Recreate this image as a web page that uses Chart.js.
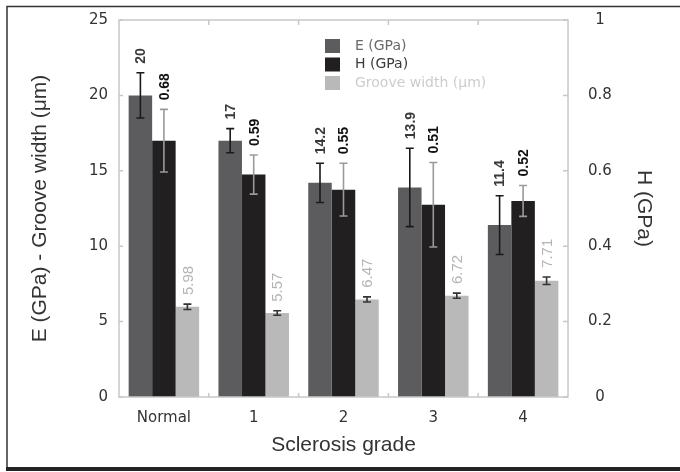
<!DOCTYPE html>
<html>
<head>
<meta charset="utf-8">
<script src="https://cdn.jsdelivr.net/npm/chart.js@4.4.0/dist/chart.umd.min.js"></script>
<style>
  html, body { margin: 0; padding: 0; background: #fff; }
</style>
</head>
<body>
<canvas id="chart" width="680" height="472"></canvas>
<script>
// data
const grades = ['Normal', '1', '2', '3', '4'];
const eValues = [20, 17, 14.2, 13.9, 11.4];
const eErrors = [1.5, 0.8, 1.3, 2.6, 1.95];
const hValues = [0.68, 0.59, 0.55, 0.51, 0.52];
const hErrors = [0.083, 0.052, 0.07, 0.112, 0.041];
const grooveValues = [5.98, 5.57, 6.47, 6.72, 7.71];
const grooveErrors = [0.18, 0.15, 0.17, 0.17, 0.25];
const leftTicks = [0, 5, 10, 15, 20, 25];
const rightTicks = [0, 0.2, 0.4, 0.6, 0.8, 1];

const errors = [eErrors, hErrors, grooveErrors];
const barColors = ['#5c5c5f', '#221f20', '#b9b9b9'];
const errColors = ['#1a1a1a', '#9a9a9a', '#333333'];
const labelStyles = [
    { color: '#3a3a3a', font: 'bold 14px "Liberation Sans", Arial, sans-serif' },
    { color: '#111111', font: 'bold 14px "Liberation Sans", Arial, sans-serif' },
    { color: '#b4b4b4', font: '15px "Liberation Sans", Arial, sans-serif' }
];
const legendText = ['#6a6a6a', '#3a3a3a', '#cdcdcd'];

const tickFont = { family: '"DejaVu Sans", sans-serif', size: 15 };
const titleFont = { family: '"Liberation Sans", Arial, sans-serif', size: 21 };

const extras = {
    id: 'extras',
    afterDatasetsDraw: (chart) => {
        const ctx = chart.ctx;
        const area = chart.chartArea;

        // plot frame
        ctx.save();
        ctx.strokeStyle = '#c8c8c8';
        ctx.lineWidth = 1.5;
        ctx.strokeRect(area.left, area.top, area.right - area.left, area.bottom - area.top);

        // inward tick marks
        const yL = chart.scales.y, yR = chart.scales.y1, x = chart.scales.x;
        ctx.beginPath();
        leftTicks.forEach(v => {
            const p = yL.getPixelForValue(v);
            ctx.moveTo(area.left, p); ctx.lineTo(area.left + 4, p);
        });
        rightTicks.forEach(v => {
            const p = yR.getPixelForValue(v);
            ctx.moveTo(area.right, p); ctx.lineTo(area.right - 5, p);
        });
        for (let i = 1; i < grades.length; i++) {
            const p = (x.getPixelForValue(i - 1) + x.getPixelForValue(i)) / 2;
            ctx.moveTo(p, area.bottom); ctx.lineTo(p, area.bottom - 4);
            ctx.moveTo(p, area.top); ctx.lineTo(p, area.top + 5);
        }
        ctx.stroke();

        // error bars + value labels
        chart.data.datasets.forEach((ds, d) => {
            const meta = chart.getDatasetMeta(d);
            const scale = chart.scales[meta.yAxisID];
            meta.data.forEach((bar, i) => {
                const v = ds.data[i], err = errors[d][i];
                const top = scale.getPixelForValue(v + err);
                const bot = scale.getPixelForValue(v - err);
                ctx.strokeStyle = errColors[d];
                ctx.lineWidth = 1.6;
                ctx.beginPath();
                ctx.moveTo(bar.x, top); ctx.lineTo(bar.x, bot);
                ctx.moveTo(bar.x - 4, top); ctx.lineTo(bar.x + 4, top);
                ctx.moveTo(bar.x - 4, bot); ctx.lineTo(bar.x + 4, bot);
                ctx.stroke();

                ctx.save();
                ctx.translate(bar.x, top - 9);
                ctx.rotate(-Math.PI / 2);
                ctx.fillStyle = labelStyles[d].color;
                ctx.font = labelStyles[d].font;
                ctx.textAlign = 'left';
                ctx.textBaseline = 'middle';
                ctx.fillText(String(v), 0, 1);
                ctx.restore();
            });
        });

        // legend inside plot
        ctx.font = '14px "DejaVu Sans", sans-serif';
        ctx.textBaseline = 'middle';
        ctx.textAlign = 'left';
        chart.data.datasets.forEach((ds, d) => {
            const cy = 46 + d * 18.5;
            ctx.fillStyle = ds.backgroundColor;
            ctx.fillRect(325, cy - 7, 15, 14);
            ctx.fillStyle = legendText[d];
            ctx.fillText(ds.label, 355, cy);
        });

        // outer frame
        ctx.strokeStyle = '#333';
        ctx.lineWidth = 1.5;
        ctx.beginPath();
        ctx.moveTo(680, 6.5); ctx.lineTo(7, 6.5); ctx.lineTo(7, 469);
        ctx.stroke();
        ctx.fillStyle = '#222';
        ctx.fillRect(6, 467, 674, 4);
        ctx.restore();
    }
};

const fitY = (w) => (s) => { s.width = w; s.paddingTop = 0; s.paddingBottom = 0; };

new Chart(document.getElementById('chart'), {
    type: 'bar',
    data: {
        labels: grades,
        datasets: [
            { label: 'E (GPa)', data: eValues, backgroundColor: barColors[0], yAxisID: 'y' },
            { label: 'H (GPa)', data: hValues, backgroundColor: barColors[1], yAxisID: 'y1' },
            { label: 'Groove width (μm)', data: grooveValues, backgroundColor: barColors[2], yAxisID: 'y' }
        ]
    },
    options: {
        responsive: false,
        devicePixelRatio: 1,
        animation: false,
        events: [],
        layout: { padding: { top: 20, left: 0, right: 0, bottom: 0 } },
        datasets: { bar: { categoryPercentage: 0.785, barPercentage: 1.0 } },
        scales: {
            x: {
                grid: { display: false, drawTicks: false },
                border: { display: false },
                ticks: { color: '#333', font: tickFont, padding: 12 },
                title: { display: true, text: 'Sclerosis grade', color: '#333', font: titleFont, padding: { top: 0, bottom: 14 } },
                afterFit: (s) => { s.height = 75; s.paddingLeft = 0; s.paddingRight = 0; }
            },
            y: {
                position: 'left',
                min: 0, max: 25,
                afterBuildTicks: (s) => { s.ticks = leftTicks.map(v => ({ value: v })); },
                grid: { display: false, drawTicks: false },
                border: { display: false },
                ticks: { color: '#333', font: tickFont, padding: 11, callback: (v) => String(v) },
                title: { display: true, text: 'E (GPa) - Groove width (μm)', color: '#333', font: titleFont, padding: { top: 28, bottom: 0 } },
                afterFit: fitY(119)
            },
            y1: {
                position: 'right',
                min: 0, max: 1,
                afterBuildTicks: (s) => { s.ticks = rightTicks.map(v => ({ value: v })); },
                grid: { display: false, drawTicks: false },
                border: { display: false },
                ticks: { color: '#333', font: tickFont, padding: 20, crossAlign: 'center', callback: (v) => String(v) },
                title: { display: true, text: 'H (GPa)', color: '#333', font: titleFont, padding: { top: 24, bottom: 0 } },
                afterFit: fitY(112)
            }
        },
        plugins: {
            legend: { display: false },
            tooltip: { enabled: false }
        }
    },
    plugins: [extras]
});
</script>
</body>
</html>
